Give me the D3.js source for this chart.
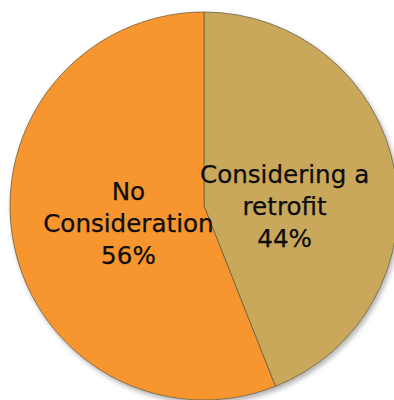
<!DOCTYPE html>
<html>
<head>
<meta charset="utf-8">
<script src="https://cdn.jsdelivr.net/npm/d3@7"></script>
<style>
    html, body { margin: 0; padding: 0; background: #fff; }
    svg { display: block; }
</style>
</head>
<body>
<div id="root"></div>
<script>
// slices, clockwise from 12 o'clock
const categories = ["Considering a retrofit", "No Consideration"];
const labelLines = [["Considering a", "retrofit"], ["No", "Consideration"]];
const values = [44, 56];
const colors = ["#c9a85b", "#f7952f"];

const width = 394, height = 400;
const cx = 204, cy = 206, radius = 194;

const svg = d3.select("#root")
    .append("svg")
    .attr("width", width)
    .attr("height", height);

// soft shadow round the lower right edge
const defs = svg.append("defs");
defs.append("filter")
    .attr("id", "shadow")
    .attr("x", "-10%").attr("y", "-10%")
    .attr("width", "130%").attr("height", "130%")
    .append("feDropShadow")
        .attr("dx", 2).attr("dy", 3)
        .attr("stdDeviation", 2.5)
        .attr("flood-color", "#000")
        .attr("flood-opacity", 0.3);

const pie = d3.pie().sort(null).value((d) => d);
const arcs = pie(values);

const arc = d3.arc().innerRadius(0).outerRadius(radius);
const labelArc = d3.arc().innerRadius(80).outerRadius(80);

const g = svg.append("g")
    .attr("transform", `translate(${cx}, ${cy})`);

g.append("g")
    .attr("filter", "url(#shadow)")
    .selectAll("path")
    .data(arcs)
    .enter()
    .append("path")
        .attr("d", arc)
        .attr("fill", (d, i) => colors[i])
        .attr("stroke", "#6e5d3e")
        .attr("stroke-width", 0.8)
        .attr("stroke-linejoin", "round");

// labels: name lines then percent
const lineH = 32;
const labels = g.selectAll("text.label")
    .data(arcs)
    .enter()
    .append("text")
        .attr("class", "label")
        .attr("text-anchor", "middle")
        .attr("font-family", "'DejaVu Sans', Verdana, sans-serif")
        .attr("font-size", 24.6)
        .attr("fill", "#0d0d0d")
        .attr("stroke", "#0d0d0d")
        .attr("stroke-width", 0.25)
        .attr("transform", (d, i) => {
            const [x, y] = labelArc.centroid(d);
            // nudge each block to where the original sits
            const dx = i === 0 ? 2 : 3;
            const dy = i === 0 ? 15 : 2;
            return `translate(${x + dx}, ${y + dy})`;
        });

labels.each(function(d, i) {
    const t = d3.select(this);
    const lines = labelLines[i].concat([values[i] + "%"]);
    lines.forEach((s, k) => {
        t.append("tspan")
            .attr("x", 0)
            .attr("y", (k - (lines.length - 1) / 2) * lineH + 9)
            .text(s);
    });
});
</script>
</body>
</html>
